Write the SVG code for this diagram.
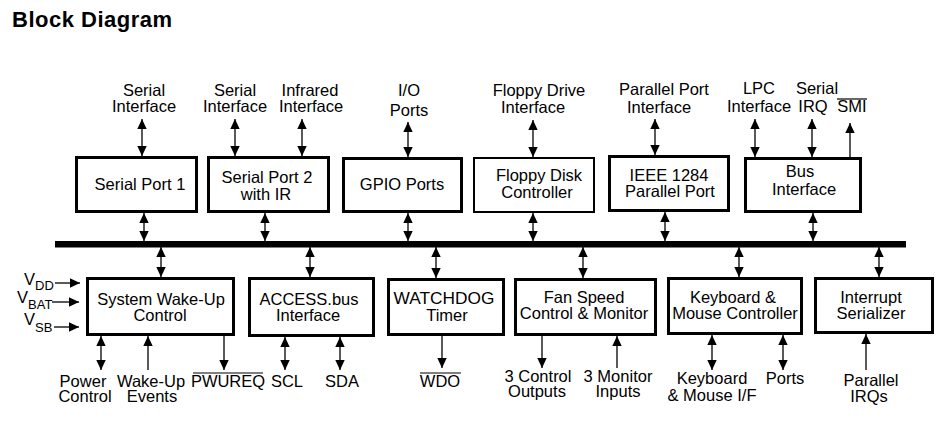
<svg xmlns="http://www.w3.org/2000/svg" width="951" height="430" viewBox="0 0 951 430">
<defs>
<marker id="ah" viewBox="0 0 10 10" markerWidth="10" markerHeight="10" refX="10" refY="5" orient="auto-start-reverse" markerUnits="userSpaceOnUse">
<path d="M0,0.3 L10,5 L0,9.7 z" fill="#000"/>
</marker>
</defs>
<style>
text{font-family:"Liberation Sans",Arial,sans-serif;font-size:16.5px;fill:#000;text-anchor:middle}
.box{fill:#fff;stroke:#000;stroke-width:3}
.thin{stroke-width:2}
.c line{stroke:#000;stroke-width:1.3}
.d{marker-start:url(#ah);marker-end:url(#ah)}
.s{marker-end:url(#ah)}
.ov{stroke:#000;stroke-width:1.2}
.title{font-weight:bold;font-size:22px;text-anchor:start}
.sub{font-size:13px}
</style>
<rect width="951" height="430" fill="#fff"/>
<text class="title" x="12" y="27" textLength="160">Block Diagram</text>

<rect id="bus" x="55" y="241" width="851" height="6.5" fill="#000"/>

<g class="c" id="connectors">
<line class="d" x1="142" y1="119" x2="142" y2="156"/>
<line class="d" x1="144" y1="213" x2="144" y2="241"/>
<line class="d" x1="235" y1="119" x2="235" y2="156"/>
<line class="d" x1="302" y1="119" x2="302" y2="156"/>
<line class="d" x1="265" y1="213" x2="265" y2="241"/>
<line class="d" x1="408" y1="122" x2="408" y2="157"/>
<line class="d" x1="408" y1="213" x2="408" y2="241"/>
<line class="d" x1="533" y1="120" x2="533" y2="157"/>
<line class="d" x1="533" y1="213" x2="533" y2="241"/>
<line class="d" x1="655" y1="119" x2="655" y2="155"/>
<line class="d" x1="665" y1="212" x2="665" y2="241"/>
<line class="d" x1="755" y1="119" x2="755" y2="157"/>
<line class="d" x1="812" y1="119" x2="812" y2="157"/>
<line class="s" x1="850" y1="157" x2="850" y2="123"/>
<line class="d" x1="813" y1="213" x2="813" y2="241"/>

<line class="d" x1="161" y1="247" x2="161" y2="277"/>
<line class="d" x1="310" y1="247" x2="310" y2="277"/>
<line class="d" x1="436" y1="247" x2="436" y2="278"/>
<line class="d" x1="583" y1="247" x2="583" y2="278"/>
<line class="d" x1="739" y1="247" x2="739" y2="277"/>
<line class="d" x1="879" y1="247" x2="879" y2="277"/>

<line class="d" x1="101" y1="336" x2="101" y2="370"/>
<line class="s" x1="148" y1="370" x2="148" y2="336"/>
<line class="s" x1="224" y1="336" x2="224" y2="370"/>
<line class="d" x1="285" y1="337" x2="285" y2="370"/>
<line class="d" x1="340" y1="337" x2="340" y2="370"/>
<line class="s" x1="442" y1="336" x2="442" y2="368"/>
<line class="s" x1="542" y1="336" x2="542" y2="368"/>
<line class="s" x1="617" y1="368" x2="617" y2="336"/>
<line class="d" x1="712" y1="335" x2="712" y2="370"/>
<line class="d" x1="783" y1="335" x2="783" y2="370"/>
<line class="s" x1="866" y1="370" x2="866" y2="334"/>

<line class="s" x1="55" y1="283" x2="80" y2="283"/>
<line class="s" x1="52" y1="302" x2="79" y2="302"/>
<line class="s" x1="54" y1="327" x2="79" y2="327"/>
</g>

<g id="serialport1">
<rect class="box" x="76.5" y="157.5" width="120" height="54"/>
<text x="140" y="190">Serial Port 1</text>
</g>
<g id="serialport2">
<rect class="box" x="208.5" y="157.5" width="120" height="54"/>
<text x="267" y="183">Serial Port 2<tspan x="266" dy="17">with IR</tspan></text>
</g>
<g id="gpio">
<rect class="box" x="343.5" y="158.5" width="118" height="53"/>
<text x="402" y="190">GPIO Ports</text>
</g>
<g id="floppy">
<rect class="box thin" x="474" y="158" width="120" height="54"/>
<text x="539" y="181">Floppy Disk<tspan x="537" dy="17">Controller</tspan></text>
</g>
<g id="ieee1284">
<rect class="box" x="609.5" y="156.5" width="119" height="54"/>
<text x="669" y="181">IEEE 1284<tspan x="670" dy="16">Parallel Port</tspan></text>
</g>
<g id="businterface">
<rect class="box" x="745.5" y="158.5" width="115" height="53"/>
<text x="800" y="177">Bus<tspan x="804" dy="18">Interface</tspan></text>
</g>

<g id="syswake">
<rect class="box" x="87.5" y="278.5" width="146" height="56"/>
<text x="161" y="305">System Wake-Up<tspan x="160" dy="16">Control</tspan></text>
</g>
<g id="accessbus">
<rect class="box" x="249.5" y="278.5" width="124" height="57"/>
<text x="309" y="305">ACCESS.bus<tspan x="308" dy="16">Interface</tspan></text>
</g>
<g id="watchdog">
<rect class="box" x="388.5" y="279.5" width="115" height="55"/>
<text x="444" y="304"><tspan style="font-size:17.3px">WATCHDOG</tspan><tspan x="447" dy="17">Timer</tspan></text>
</g>
<g id="fan">
<rect class="box" x="515.5" y="279.5" width="140" height="55"/>
<text x="584" y="303">Fan Speed<tspan x="584" dy="16">Control &amp; Monitor</tspan></text>
</g>
<g id="keyboard">
<rect class="box" x="668.5" y="278.5" width="133" height="55"/>
<text x="733" y="303">Keyboard &amp;<tspan x="735" dy="16">Mouse Controller</tspan></text>
</g>
<g id="interrupt">
<rect class="box" x="815.5" y="278.5" width="117" height="54"/>
<text x="871" y="303">Interrupt<tspan x="871" dy="16">Serializer</tspan></text>
</g>

<g id="labels">
<text x="144" y="96">Serial<tspan x="144" dy="16">Interface</tspan></text>
<text x="235" y="96">Serial<tspan x="235" dy="16">Interface</tspan></text>
<text x="310" y="96">Infrared<tspan x="311" dy="16">Interface</tspan></text>
<text x="409" y="96">I/O<tspan x="409" dy="20">Ports</tspan></text>
<text x="539" y="96">Floppy Drive<tspan x="533" dy="17">Interface</tspan></text>
<text x="664" y="95">Parallel Port<tspan x="659" dy="18">Interface</tspan></text>
<text x="759" y="94">LPC<tspan x="759" dy="18">Interface</tspan></text>
<text x="817" y="94">Serial<tspan x="813" dy="18">IRQ</tspan></text>
<text x="852" y="112">SMI</text>
<line class="ov" x1="837" y1="99" x2="867" y2="99"/>

<text x="83" y="387">Power<tspan x="85" dy="15">Control</tspan></text>
<text x="151" y="387">Wake-Up<tspan x="152" dy="15">Events</tspan></text>
<text x="228" y="387">PWUREQ</text>
<line class="ov" x1="193" y1="373" x2="263" y2="373"/>
<text x="287" y="387">SCL</text>
<text x="342" y="387">SDA</text>
<text x="440" y="387">WDO</text>
<line class="ov" x1="420" y1="373" x2="461" y2="373"/>
<text x="538" y="382">3 Control<tspan x="537" dy="15">Outputs</tspan></text>
<text x="618" y="382">3 Monitor<tspan x="618" dy="15">Inputs</tspan></text>
<text x="712" y="384">Keyboard<tspan x="712" dy="17">&amp; Mouse I/F</tspan></text>
<text x="785" y="384">Ports</text>
<text x="871" y="386">Parallel<tspan x="869" dy="16">IRQs</tspan></text>

<text x="24" y="285" style="text-anchor:start">V<tspan class="sub" dy="5">DD</tspan></text>
<text x="17" y="303" style="text-anchor:start">V<tspan class="sub" dy="6">BAT</tspan></text>
<text x="24" y="325" style="text-anchor:start">V<tspan class="sub" dy="7">SB</tspan></text>
</g>
</svg>
